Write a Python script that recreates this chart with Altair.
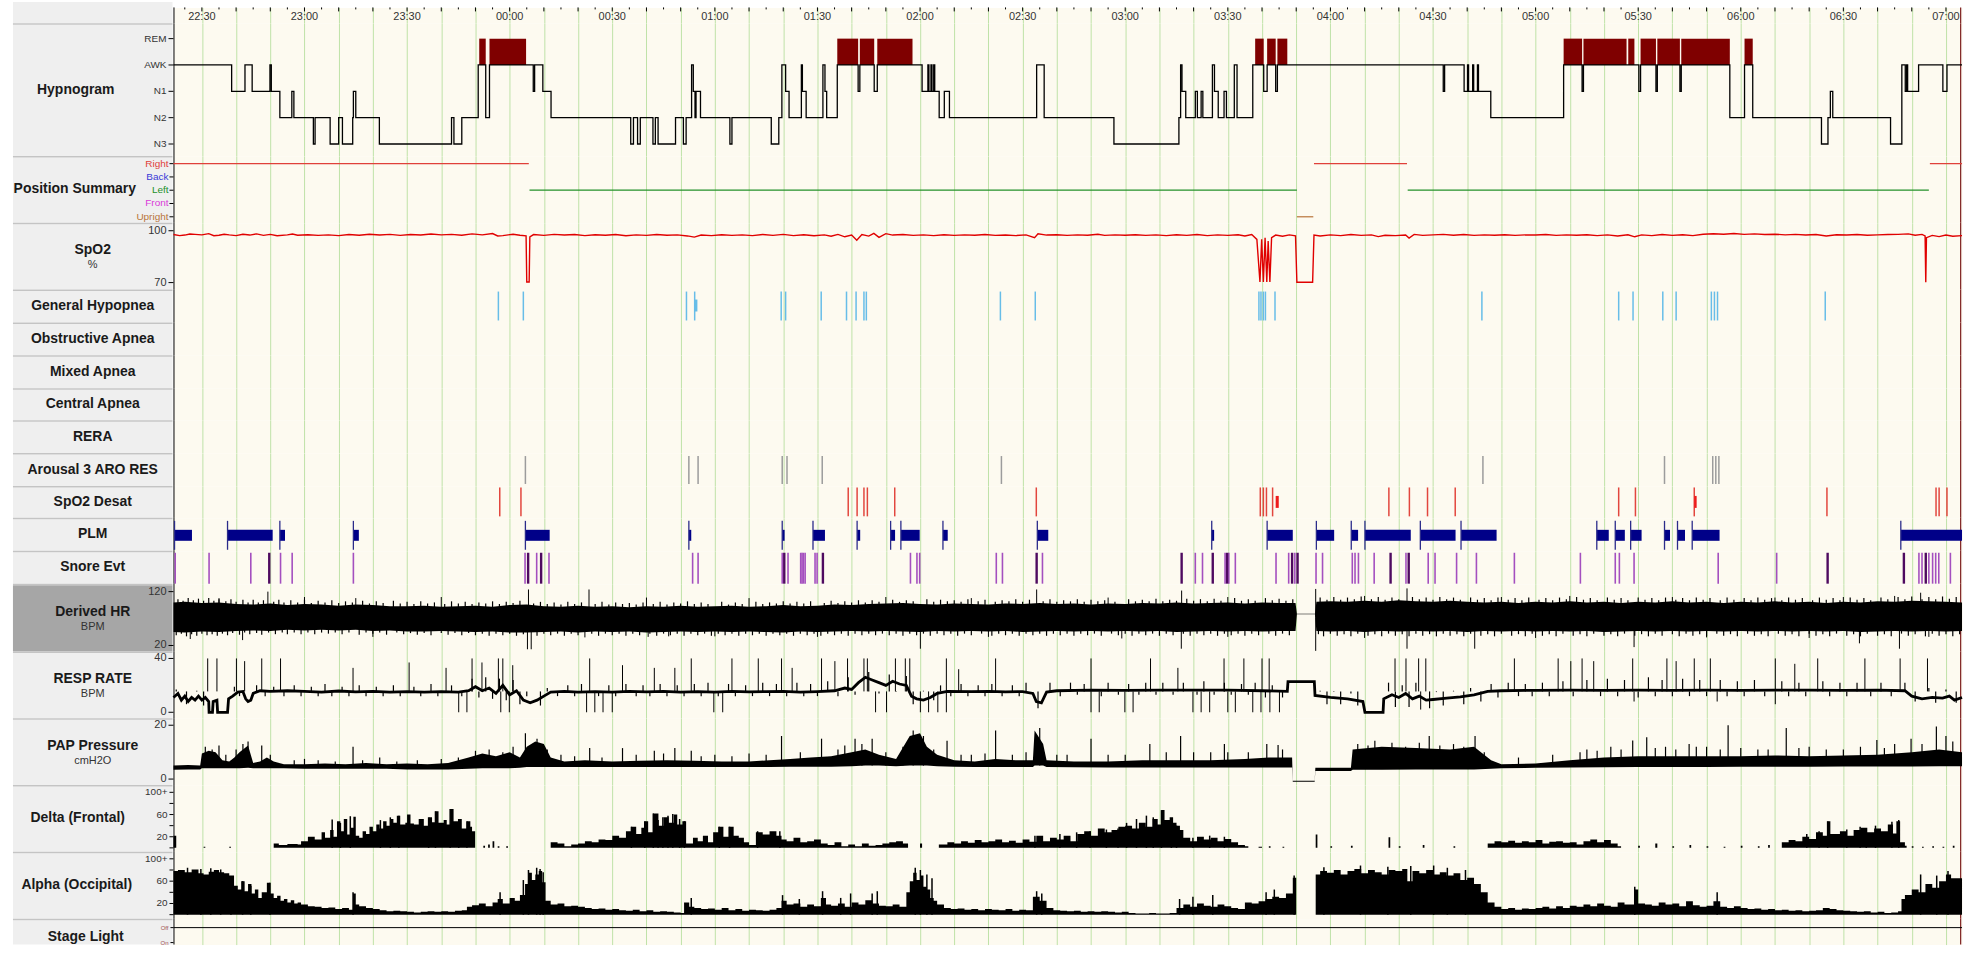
import altair as alt
import pandas as pd

# ---------------------------------------------------------------- layout
W = 1794
X0, X1 = -8.31, 514.7          # minutes after 22:30
CURSOR_T = 514.3
CREAM = "#fdfaf0"
GRID_GREEN = "#bfe2a8"
BOX = "#efefef"
BOX_SEL = "#a6a6a6"
SEP = "#c4c4c4"
FONT = "Liberation Sans"

# ---------------------------------------------------------------- time axis
TIME_LABEL_T = [0, 30, 60, 90, 120, 150, 180, 210, 240, 270, 300, 330, 360, 390, 420, 450, 480, 510]
TIME_LABELS = ["22:30", "23:00", "23:30", "00:00", "00:30", "01:00", "01:30", "02:00", "02:30",
               "03:00", "03:30", "04:00", "04:30", "05:00", "05:30", "06:00", "06:30", "07:00"]
GRID_T = list(range(0, 515, 10))
MINOR_T = list(range(-5, 515, 10))

# ---------------------------------------------------------------- hypnogram (start minute, stage)
HYPNO = [(-8.31, "AWK"), (8.7, "N1"), (12.6, "AWK"), (14.7, "N1"), (19.9, "AWK"), (20.3, "N1"),
         (22.8, "N2"), (26.3, "N1"), (26.9, "N2"), (32.6, "N3"), (33.1, "N2"), (37.5, "N3"),
         (40.0, "N2"), (41.1, "N3"), (44.1, "N2"), (44.3, "N1"), (45.0, "N2"), (51.9, "N3"),
         (73.0, "N2"), (73.7, "N3"), (76.0, "N2"), (80.8, "AWK"), (81.1, "REM"), (83.0, "N2"),
         (84.1, "REM"), (94.8, "AWK"), (96.9, "N1"), (97.3, "AWK"), (99.7, "N1"), (102.1, "N2"),
         (125.4, "N3"), (126.2, "N2"), (127.4, "N3"), (128.2, "N2"), (131.9, "N3"), (132.6, "N2"),
         (133.4, "N3"), (138.5, "N2"), (140.8, "N3"), (141.6, "N2"), (143.2, "AWK"), (143.7, "N1"),
         (144.2, "N2"), (144.5, "N1"), (145.8, "N2"), (154.4, "N3"), (155.0, "N2"), (166.5, "N3"),
         (168.7, "N2"), (169.6, "AWK"), (170.7, "N1"), (171.7, "N2"), (175.3, "AWK"), (175.6, "N1"),
         (176.7, "N2"), (181.6, "AWK"), (182.2, "N1"), (182.7, "N2"), (185.8, "REM"), (191.9, "N1"),
         (192.4, "REM"), (196.6, "N1"), (197.5, "REM"), (207.8, "AWK"), (210.6, "N1"), (212.3, "AWK"),
         (212.6, "N1"), (213.2, "AWK"), (213.5, "N1"), (214.0, "AWK"), (214.3, "N1"), (215.6, "N2"),
         (217.1, "N1"), (218.6, "N2"), (244.1, "AWK"), (246.3, "N2"), (266.7, "N3"), (285.7, "N2"),
         (286.2, "AWK"), (286.6, "N1"), (287.7, "N2"), (290.5, "N1"), (291.1, "N2"), (292.2, "N1"),
         (292.7, "N2"), (295.5, "AWK"), (296.1, "N1"), (297.2, "N2"), (298.9, "N1"), (299.6, "N2"),
         (301.9, "AWK"), (302.7, "N2"), (307.3, "AWK"), (308.0, "REM"), (310.5, "N1"), (311.5, "REM"),
         (314.0, "N1"), (314.5, "REM"), (317.4, "AWK"), (363.0, "N1"), (363.4, "AWK"), (369.1, "N1"),
         (370.1, "AWK"), (370.4, "N1"), (371.6, "AWK"), (371.9, "N1"), (373.0, "AWK"), (373.3, "N1"),
         (376.9, "N2"), (398.2, "REM"), (403.6, "N1"), (404.0, "REM"), (416.6, "AWK"), (417.1, "REM"),
         (418.9, "AWK"), (420.2, "N1"), (420.7, "REM"), (425.2, "N1"), (425.6, "REM"), (432.2, "N1"),
         (432.6, "REM"), (446.8, "N2"), (451.1, "REM"), (453.5, "N2"), (473.6, "N3"), (475.5, "N2"),
         (476.2, "N1"), (476.9, "N2"), (493.8, "N3"), (497.1, "AWK"), (498.1, "N1"), (498.5, "AWK"),
         (498.8, "N1"), (502.0, "AWK"), (509.1, "N1"), (510.3, "AWK")]
STAGE_LABELS = ["N3", "N2", "N1", "AWK", "REM"]

# ---------------------------------------------------------------- body position (start, end, position)
POSITION = [(-8.31, 95.6, "Right"), (95.8, 320.2, "Left"), (320.2, 325.0, "Upright"),
            (325.2, 352.4, "Right"), (352.6, 505.0, "Left"), (505.3, 514.7, "Right")]
POS_NAMES = ["Upright", "Front", "Left", "Back", "Right"]
POS_COLORS = ["#b8743a", "#d93ad9", "#23902a", "#3a3ad8", "#e0403a"]

# ---------------------------------------------------------------- SpO2 (minute, %)
SPO2 = [(-8.31, 97.8), (-6.5, 97.2), (-5, 97.5), (-3.5, 98.1), (-2, 97.9), (0, 97.6), (2, 98.3), (3.5, 97.1),
        (5, 97.4), (6.5, 98.0), (8, 97.6), (10, 97.2), (12, 98.0), (14, 97.5), (16, 98.2), (18, 97.3),
        (20, 97.9), (22, 97.1), (25, 97.6), (26.5, 98.1), (28, 97.4), (31, 97.7), (34, 97.3), (37, 97.6),
        (40, 97.2), (43, 97.8), (46, 97.4), (49, 98.0), (52, 97.5), (55, 97.9), (58, 97.3), (61, 97.8),
        (64, 97.5), (67, 98.1), (70, 97.6), (73, 97.9), (76, 97.4), (79, 98.2), (82, 97.6), (85, 98.4),
        (86.5, 97.0), (88, 97.2), (91, 98.0), (93, 97.4), (94.8, 97.0),
        (95.0, 70.3), (95.7, 70.3), (95.9, 96.5), (97, 97.8), (100, 97.3), (103, 97.9), (106, 97.5),
        (109, 97.8), (112, 97.2), (115, 97.7), (118, 97.4), (121, 97.8), (124, 97.1), (127, 97.6),
        (130, 97.3), (133, 97.8), (136, 97.4), (139, 97.6), (142, 97.0), (144, 96.3), (146, 97.5),
        (149, 97.2), (152, 97.7), (155, 97.3), (158, 97.6), (161, 97.2), (164, 97.8), (167, 97.3),
        (170, 97.9), (173, 97.2), (176, 97.7), (179, 97.1), (182, 97.6), (184, 96.8), (186, 97.9),
        (188, 96.5), (190, 97.5), (191.5, 94.5), (193, 97.8), (195, 96.9), (196.5, 98.5), (198, 96.2),
        (200, 98.3), (202, 97.5), (205, 97.8), (208, 97.3), (211, 97.6), (214, 97.2), (217, 97.7),
        (220, 97.3), (223, 97.6), (226, 97.4), (229, 97.8), (232, 97.3), (235, 97.5), (238, 97.2),
        (241, 97.6), (243.5, 96.0), (244.5, 98.2), (247, 97.5), (250, 97.7), (253, 97.3), (256, 97.6),
        (259, 97.4), (262, 98.0), (264, 97.3), (267, 97.6), (270, 97.4), (273, 97.7), (276, 97.3),
        (279, 97.6), (282, 97.2), (285, 97.7), (288, 97.3), (291, 97.8), (294, 97.2), (297, 97.6),
        (300, 97.3), (303, 97.7), (305, 97.0), (307, 97.8), (308.5, 95.0), (309.4, 70.3), (309.9, 95.0),
        (310.4, 70.3), (310.9, 96.0), (311.4, 70.3), (311.8, 94.0), (312.3, 70.3), (312.8, 96.0),
        (314, 97.5), (316, 96.8), (318, 97.6), (319.8, 97.0), (320.2, 70.2), (324.8, 70.2),
        (325.2, 97.5), (327, 97.0), (330, 97.6), (333, 97.2), (336, 97.8), (339, 97.3), (342, 97.6),
        (344, 96.6), (346, 97.4), (349, 97.2), (352, 97.5), (353, 95.8), (354.5, 97.9), (357, 97.3),
        (360, 97.6), (363, 97.9), (366, 97.4), (369, 97.8), (372, 97.3), (375, 97.6), (378, 97.4),
        (381, 97.7), (384, 97.3), (387, 97.6), (390, 97.5), (393, 97.8), (396, 97.3), (399, 97.6),
        (402, 97.4), (405, 97.7), (408, 97.2), (411, 97.6), (414, 97.0), (417, 97.7), (419, 96.5),
        (421, 97.6), (424, 97.2), (427, 97.8), (430, 97.3), (433, 97.7), (436, 97.2), (439, 98.0),
        (442, 98.3), (445, 98.0), (448, 98.4), (451, 97.9), (454, 98.2), (457, 97.8), (460, 98.0),
        (463, 97.6), (466, 97.9), (469, 97.5), (472, 97.8), (475, 97.0), (478, 97.7), (481, 97.5),
        (484, 97.8), (487, 97.4), (490, 97.6), (493, 97.8), (496, 97.9), (499, 98.2), (501, 97.4),
        (503, 97.9), (503.9, 97.0), (504.1, 70.2), (504.3, 96.0), (506, 97.3), (508, 96.6),
        (510, 97.5), (512, 96.8), (514.7, 97.2)]

# ---------------------------------------------------------------- scored events (minutes)
HYPOPNEA_T = [86.7, 94.0, 141.7, 144.1, 169.4, 170.7, 181.1, 188.5, 191.3, 193.6, 194.3, 233.5, 243.7,
              309.1, 309.7, 310.4, 311.0, 313.8, 374.3, 414.3, 418.5, 427.2, 431.1, 441.4, 442.3,
              443.2, 474.7]
HYPOPNEA_BLOB = [(144.1, 144.9)]
AROUSAL_T = [94.6, 142.4, 145.1, 169.7, 171.1, 181.4, 233.8, 374.6, 427.7, 441.8, 442.7, 443.6]
DESAT_T = [87.1, 93.3, 189.0, 191.6, 193.6, 194.6, 202.6, 244.0, 309.5, 310.4, 311.3, 313.1,
           347.1, 353.1, 358.4, 366.5, 414.3, 419.2, 436.4, 475.2, 507.1, 508.0, 510.3]
DESAT_BLOB = [(314.0, 314.9), (436.4, 437.1)]
PLM = [(-8.0, -2.9), (7.5, 20.7), (22.8, 24.3), (44.3, 45.9), (94.6, 101.7), (142.4, 143.1),
       (169.7, 170.4), (178.7, 182.2), (191.6, 192.5), (201.4, 202.7), (204.4, 209.9), (216.7, 218.1),
       (244.3, 247.5), (295.3, 296.0), (311.5, 319.0), (325.9, 331.1), (336.1, 338.1), (340.1, 353.5),
       (356.3, 366.6), (368.2, 378.6), (407.9, 411.4), (413.3, 416.1), (417.8, 421.0), (427.7, 429.3),
       (431.5, 433.7), (435.8, 443.8), (496.8, 514.7)]
SNORE_LIGHT = [-7.8, 2.1, 14.3, 23.0, 26.4, 44.3, 94.5, 97.9, 101.5, 143.5, 145.1, 169.7, 171.4,
               175.1, 175.5, 175.9, 176.4, 179.3, 179.9, 207.2, 209.1, 209.9, 232.3, 234.1, 245.8,
               290.5, 292.6, 299.2, 300.3, 302.2, 314.1, 317.8, 319.6, 325.8, 327.7, 336.4, 337.2,
               338.2, 342.8, 352.1, 358.6, 360.6, 366.9, 372.7, 383.8, 403.1, 413.3, 414.5, 418.8,
               443.4, 460.5, 502.1, 503.0, 505.0, 506.1, 507.0, 507.9, 511.3]
SNORE_DARK = [19.7, 95.4, 99.2, 170.3, 181.6, 244.1, 286.5, 295.6, 299.8, 318.8, 320.4, 347.6,
              352.9, 475.4, 497.7, 504.1]

# ---------------------------------------------------------------- derived HR band (BPM)
HR_T = [-8.3] + list(range(-5, 320, 5)) + [319.8, 320.2, 325.5, 325.9] + list(range(330, 515, 5)) + [514.7]
HR_HI = [100,
         101, 99, 100, 97, 96, 98, 95, 97, 96, 94,
         96, 95, 93, 93, 94, 92, 93, 94, 92, 95,
         96, 93, 92, 94, 92, 93, 91, 93, 92, 94,
         92, 93, 94, 92, 93, 95, 93, 94, 96, 95,
         97, 98, 99, 97, 96, 98, 97, 96, 98, 97,
         99, 97, 98, 96, 98, 97, 99, 98, 100, 98,
         99, 100, 98, 100, 99,
         99, 79, 79, 101,
         102, 101, 103, 101, 104, 102, 101, 103, 101, 100,
         101, 99, 101, 100, 102, 100, 101, 99, 101, 100,
         102, 100, 101, 99, 101, 100, 102, 100, 101, 99,
         101, 100, 102, 101, 103, 102, 101,
         100]
HR_LO = [45,
         44, 46, 45, 47, 48, 47, 49, 48, 49, 48,
         49, 47, 48, 46, 46, 47, 46, 45, 46, 44,
         44, 45, 46, 44, 46, 45, 46, 44, 45, 46,
         45, 46, 45, 46, 45, 44, 46, 45, 46, 47,
         46, 47, 46, 45, 47, 46, 47, 46, 47, 45,
         46, 47, 46, 47, 46, 47, 46, 47, 45, 46,
         47, 46, 47, 46, 47,
         47, 78, 78, 47,
         46, 47, 45, 47, 46, 47, 46, 47, 45, 47,
         46, 47, 46, 47, 46, 47, 45, 46, 47, 46,
         47, 46, 47, 46, 47, 46, 47, 46, 47, 46,
         47, 45, 46, 47, 46, 47, 46,
         47]
HR_SPIKES = [(19.3, 120), (95.5, 124), (113.2, 124), (244.1, 124), (286.5, 122), (352.4, 126), (502.6, 118),
             (325.7, 125), (5, 108), (30, 110), (45, 108), (70, 110), (130, 109), (160, 108), (200, 110),
             (225, 108), (265, 109), (300, 110), (340, 112), (380, 110), (400, 112), (430, 110), (460, 109),
             (480, 110), (495, 112), (-3.4, 32), (11.9, 30), (95.2, 13), (96.3, 13), (112, 35), (130.5, 36),
             (136.5, 37), (210.1, 14), (286.4, 14), (269, 33), (325.7, 10), (352.4, 14), (372.2, 14),
             (418.8, 17), (496.4, 14), (484.7, 24), (50, 36), (150, 37), (180, 36), (230, 36), (300, 36),
             (340, 34), (390, 34), (440, 35), (470, 34), (505, 36)]
HR_FRINGE_UP = [(-7, 106), (-5.5, 103), (-4, 108), (-2.5, 104), (-1, 107), (0.5, 103), (2, 108), (3.5, 103),
                (5, 106), (7, 102), (8.5, 106), (10, 101), (12, 105), (13.5, 100), (15, 105), (16.5, 100),
                (18, 104), (21, 101), (22.5, 105), (24, 100), (26, 104), (28, 100), (30, 105), (32, 99),
                (34, 103), (36, 100), (38, 104), (40, 99), (42, 102), (44, 100), (47, 103), (49, 98),
                (51, 102), (53, 99), (56, 103), (58, 98), (60, 101), (62, 97), (64, 102), (66, 98),
                (68, 100), (71, 97), (73, 102), (75, 98), (77, 101), (79, 97), (81, 100), (83, 98),
                (85, 102), (87, 97), (89, 101), (91, 99), (93, 103), (97, 98), (99, 101), (101, 97),
                (103, 100), (105, 96), (107, 101), (109, 97), (111, 100), (115, 97), (117, 101), (119, 96),
                (121, 100), (123, 97), (125, 99), (127, 96), (129, 100), (132, 97), (134, 101), (136, 96),
                (138, 100), (140, 98), (142, 102), (144, 97), (146, 100), (148, 97), (152, 101), (154, 96),
                (156, 100), (158, 97), (162, 101), (164, 97), (166, 100), (168, 98), (170, 102), (172, 98),
                (174, 101), (176, 98), (178, 102), (182, 99), (184, 103), (186, 99), (188, 102), (190, 100),
                (192, 104), (194, 100), (196, 104), (198, 101), (202, 105), (204, 101), (206, 104),
                (208, 102), (212, 106), (214, 101), (216, 105), (218, 102), (220, 104), (222, 101),
                (224, 106), (227, 102), (229, 105), (232, 101), (234, 104), (236, 102), (238, 106),
                (240, 101), (242, 105), (246, 102), (248, 106), (250, 101), (252, 104), (254, 102),
                (256, 106), (258, 101), (260, 105), (262, 102), (264, 104), (267, 101), (271, 106),
                (273, 102), (275, 105), (277, 102), (279, 107), (281, 102), (283, 105), (285, 103),
                (288, 107), (290, 103), (292, 106), (294, 102), (296, 107), (298, 103), (302, 108),
                (304, 103), (306, 106), (308, 103), (311, 108), (313, 104), (315, 107), (317, 103),
                (319, 106), (327, 109), (329, 105), (331, 110), (333, 105), (335, 109), (337, 106),
                (339, 111), (342, 106), (344, 110), (346, 105), (348, 109), (350, 106), (354, 110),
                (356, 106), (358, 109), (360, 105), (362, 110), (364, 106), (366, 109), (368, 105),
                (371, 109), (373, 105), (375, 108), (377, 104), (379, 109), (382, 105), (384, 108),
                (386, 104), (388, 109), (391, 105), (393, 108), (395, 104), (397, 109), (399, 106),
                (402, 110), (404, 105), (406, 108), (408, 104), (411, 109), (413, 105), (415, 108),
                (417, 104), (420, 109), (422, 105), (424, 108), (426, 104), (428, 109), (431, 105),
                (433, 108), (435, 104), (437, 109), (439, 105), (441, 108), (444, 104), (446, 109),
                (448, 105), (451, 108), (453, 104), (455, 109), (457, 105), (459, 108), (462, 104),
                (464, 109), (466, 105), (468, 108), (471, 104), (473, 109), (475, 105), (477, 108),
                (479, 104), (482, 109), (484, 105), (486, 108), (488, 104), (491, 109), (493, 106),
                (496, 110), (498, 106), (500, 111), (503, 106), (505, 110), (507, 106), (509, 111),
                (511, 107), (513, 110)]
HR_FRINGE_DN = [(-7.5, 39), (-6, 42), (-4.5, 37), (-3, 41), (-1.5, 38), (0, 42), (1.5, 39), (3, 41),
                (4.5, 38), (6, 42), (7.5, 39), (9, 43), (11, 40), (12.5, 44), (14, 41), (16, 43),
                (17.5, 40), (19.5, 44), (21.5, 41), (23.5, 44), (25, 41), (27, 44), (29, 41), (31, 44),
                (33, 41), (35, 44), (37, 42), (39, 44), (41, 41), (43, 44), (46, 40), (48, 44),
                (50, 42), (52, 44), (54, 40), (57, 44), (59, 41), (61, 43), (63, 40), (65, 43),
                (67, 39), (70, 43), (72, 40), (74, 43), (76, 39), (78, 43), (80, 39), (82, 42),
                (84, 38), (86, 42), (88, 39), (90, 42), (92, 38), (94, 41), (98, 38), (100, 42),
                (102, 39), (104, 42), (106, 38), (108, 42), (110, 39), (114, 42), (116, 38), (118, 42),
                (120, 39), (122, 42), (124, 38), (126, 42), (128, 39), (131, 42), (133, 38), (135, 42),
                (137, 39), (139, 42), (141, 38), (143, 42), (145, 39), (147, 42), (149, 38), (151, 42),
                (153, 39), (155, 42), (157, 38), (159, 42), (161, 39), (163, 42), (165, 38), (167, 42),
                (169, 39), (171, 42), (173, 38), (175, 42), (177, 39), (179, 42), (181, 38), (183, 42),
                (185, 39), (187, 42), (189, 38), (191, 42), (193, 39), (195, 42), (197, 39), (199, 42),
                (201, 39), (203, 42), (205, 38), (207, 42), (209, 39), (211, 42), (213, 38), (215, 42),
                (217, 39), (219, 42), (221, 38), (223, 42), (225, 39), (228, 42), (231, 38), (233, 42),
                (235, 39), (237, 42), (239, 38), (241, 42), (243, 39), (245, 42), (247, 38), (249, 42),
                (251, 39), (253, 42), (255, 38), (257, 42), (259, 39), (261, 42), (263, 38), (266, 42),
                (268, 39), (270, 42), (272, 38), (274, 42), (276, 39), (278, 42), (280, 38), (282, 42),
                (284, 39), (287, 42), (289, 38), (291, 42), (293, 39), (295, 42), (297, 38), (299, 42),
                (301, 39), (303, 42), (305, 38), (307, 42), (309, 39), (312, 42), (314, 38), (316, 42),
                (318, 39), (326.5, 41), (328, 37), (330, 42), (332, 38), (334, 41), (336, 37), (338, 42),
                (341, 38), (343, 41), (345, 37), (347, 42), (349, 38), (351, 41), (353, 37), (355, 42),
                (357, 38), (359, 41), (361, 37), (363, 42), (365, 38), (367, 41), (369, 37), (371, 42),
                (374, 38), (376, 41), (378, 37), (380, 42), (383, 38), (385, 41), (387, 37), (389, 42),
                (392, 38), (394, 41), (396, 37), (398, 42), (401, 38), (403, 41), (405, 37), (407, 42),
                (410, 38), (412, 41), (414, 37), (416, 42), (419, 38), (421, 41), (423, 37), (425, 42),
                (427, 38), (430, 41), (432, 37), (434, 42), (436, 38), (438, 41), (440, 37), (443, 42),
                (445, 38), (447, 41), (449, 37), (452, 42), (454, 38), (456, 41), (458, 37), (461, 42),
                (463, 38), (465, 41), (467, 37), (470, 42), (472, 38), (474, 41), (476, 37), (478, 42),
                (481, 38), (483, 41), (485, 37), (487, 42), (490, 38), (492, 41), (494, 37), (497, 42),
                (499, 38), (501, 41), (504, 37), (506, 42), (508, 38), (510, 41), (512, 37), (514, 41)]

# ---------------------------------------------------------------- respiration rate (BPM)
RESP = [(-8.31, 11), (-7, 14), (-6, 9), (-5, 12), (-4, 8), (-3, 11), (-2, 9), (-1, 12), (0, 9), (1, 11),
        (2.0, 8), (2.1, 0), (3.1, 0), (3.3, 8), (4.4, 9), (4.6, 0), (7.5, 0), (7.8, 10), (9, 12),
        (10.5, 15), (12, 15.5), (12.8, 10), (13.5, 8), (14.3, 9), (15, 14), (17, 16), (20, 15.5),
        (25, 16), (30, 15.5), (35, 15), (40, 15.8), (45, 15.2), (50, 15.5), (55, 15), (60, 15.3),
        (65, 15), (70, 15.4), (75, 15), (78, 16), (80, 19), (82, 16), (84, 18), (86, 14), (88, 20),
        (90, 13), (92, 16), (94, 9), (96, 7), (98, 9), (100, 12), (102, 15), (106, 15.5), (110, 15),
        (115, 15.3), (120, 15), (125, 15.5), (130, 15.2), (135, 15.5), (140, 15), (145, 15.4),
        (150, 15), (155, 15.5), (160, 15.2), (165, 15.4), (170, 15.5), (175, 15), (180, 15.4),
        (185, 16), (188, 18), (190, 17), (192, 22), (194, 26), (196, 24), (198, 22), (200, 20),
        (202, 23), (204, 21), (206, 20), (207.5, 12), (209, 10), (211, 9), (213, 11), (215, 14),
        (218, 15.5), (225, 15.3), (230, 15.5), (235, 15.2), (240, 15.4), (243, 14), (244, 8),
        (245.5, 7), (247, 15), (250, 16), (260, 16.5), (270, 16.3), (280, 16.5), (290, 16.4),
        (300, 16.5), (310, 16), (317.4, 15.5), (317.6, 22.7), (325.3, 22.7), (325.5, 12.5), (330, 11),
        (335, 10), (339.5, 8), (340.1, 0), (345.4, 0), (345.6, 10), (348, 13), (350, 11), (352, 14),
        (354, 10), (356, 12), (358, 9), (360, 9.5), (364, 10.5), (368, 11.5), (372, 13), (376, 15.5),
        (380, 16), (390, 16.3), (400, 16.5), (410, 16.2), (420, 16.5), (430, 16.3), (440, 16.5),
        (450, 16.2), (460, 16.4), (470, 16.5), (480, 16.2), (490, 16.4), (498, 16), (500, 12),
        (503, 10), (506, 11), (509, 10.5), (511, 12), (512.5, 9), (514.7, 11)]
RESP_SPIKES = [(1.7, 40), (4.4, 40), (10.1, 40), (12.5, 38), (17.5, 40), (23.0, 40), (44.2, 33), (60.6, 37),
               (71.4, 33), (79.0, 40), (81.9, 37), (86.7, 40), (88.0, 40), (90.9, 35), (113.4, 40), (123.0, 35),
               (132.3, 33), (138.3, 33), (143.1, 40), (155.0, 40), (162.7, 40), (169.5, 40), (172.6, 33),
               (181.2, 40), (185.1, 38), (188.8, 40), (193.6, 40), (194.6, 40), (202.8, 40), (205.7, 40),
               (207.0, 40), (217.7, 40), (221.3, 32), (232.1, 40), (260.0, 40), (277.4, 40), (285.4, 33),
               (298.9, 40), (304.7, 40), (310.0, 40), (312.1, 40), (348.9, 40), (352.1, 40), (355.8, 40),
               (357.9, 40), (383.8, 40), (396.6, 40), (400.3, 38), (403.6, 40), (407.0, 38), (418.4, 40),
               (428.4, 40), (431.1, 38), (436.4, 40), (441.1, 40), (460.1, 40), (465.8, 36), (472.5, 40),
               (486.3, 40), (496.6, 40), (504.6, 40),
               (75.1, 0), (77.5, 0), (87.4, 0), (89.9, 0), (112.5, 0), (114.9, 0), (117.3, 0), (120.0, 0),
               (149.7, 0), (152.3, 0), (197.0, 0), (200.2, 0), (210.1, 0), (212.5, 0), (215.2, 0),
               (217.7, 0), (260.0, 0), (262.4, 0), (269.9, 0), (272.3, 0), (289.8, 0), (292.2, 0),
               (294.7, 0), (300.0, 0), (302.2, 0), (307.3, 0), (309.7, 0), (312.3, 0), (315.1, 0),
               (356.4, 2), (418.8, 8), (443.1, 8), (460.1, 6)]
RESP_FRINGE = [(-7.5, 17), (-4.5, 6), (-1.5, 16), (0.5, 5), (9.5, 19), (11, 12), (16, 20), (18.5, 12),
               (21, 19), (24, 12), (27, 20), (29, 12), (32, 19), (34, 12), (36, 21), (38, 12), (41, 19),
               (43, 12), (46, 20), (48, 12), (51, 19), (53, 12), (56, 20), (58, 12), (62, 19), (64, 12),
               (67, 21), (69, 12), (73, 20), (76, 12), (79, 25), (81, 11), (83, 26), (85, 10), (87, 25),
               (89, 9), (91, 24), (93, 6), (95, 12), (99, 5), (101, 18), (104, 12), (107, 20), (109, 12),
               (111, 21), (116, 12), (119, 20), (121, 12), (124, 21), (127, 12), (129, 20), (131, 12),
               (134, 21), (136, 12), (139, 20), (141, 12), (144, 21), (146, 12), (148, 22), (151, 12),
               (154, 21), (156, 12), (159, 20), (161, 12), (164, 22), (166, 12), (168, 21), (171, 12),
               (174, 22), (176, 12), (178, 21), (180, 12), (183, 23), (186, 12), (189, 26), (191, 13),
               (195, 30), (198, 14), (201, 28), (203, 15), (206, 27), (208, 6), (211, 16), (214, 9),
               (216, 20), (219, 12), (222, 21), (224, 12), (227, 20), (229, 12), (231, 21), (234, 12),
               (237, 20), (239, 12), (241, 22), (244.5, 3), (248, 22), (251, 12), (254, 22), (256, 13),
               (258, 21), (263, 12), (265, 22), (268, 13), (271, 21), (274, 13), (276, 22), (279, 13),
               (281, 22), (284, 13), (287, 22), (291, 13), (293, 23), (296, 13), (299, 22), (301, 13),
               (304, 21), (306, 13), (308, 22), (311, 11), (313, 20), (316, 11), (327, 16), (329, 6),
               (331, 15), (333, 6), (336, 14), (338, 5), (347, 22), (349, 4), (351, 20), (353, 4),
               (355, 22), (359, 3), (361, 15), (363, 5), (366, 16), (369, 6), (371, 18), (374, 8),
               (377, 21), (379, 11), (382, 22), (385, 12), (387, 21), (389, 12), (392, 22), (394, 12),
               (398, 23), (401, 12), (405, 24), (409, 12), (411, 25), (414, 12), (416, 24), (420, 11),
               (423, 26), (425, 12), (427, 24), (430, 12), (433, 25), (435, 12), (438, 24), (440, 12),
               (444, 24), (446, 12), (449, 23), (451, 12), (454, 24), (457, 12), (462, 23), (464, 12),
               (467, 22), (469, 12), (474, 23), (476, 12), (479, 22), (481, 12), (484, 22), (488, 12),
               (491, 22), (494, 12), (498, 22), (501, 8), (505, 18), (507, 7), (510, 17), (513, 7)]

# ---------------------------------------------------------------- PAP pressure band (cmH2O)
PAP = [(-8.31, 3.5, 5.0), (-4, 3.6, 5.2), (-0.5, 3.6, 5.0), (0, 4, 9.5), (2, 4, 10.5), (4, 4, 10),
       (6, 4, 7), (8, 4, 6.5), (9.5, 4, 8), (11, 4, 10), (13.5, 4.2, 12.5), (15, 4, 6), (17, 4, 6.5),
       (19, 4, 8), (21, 4, 6.5), (24, 4, 5.5), (30, 3.8, 5.5), (36, 3.8, 5.8), (42, 3.8, 5.5),
       (48, 3.8, 6), (54, 3.8, 5.5), (60, 3.6, 5.8), (66, 3.6, 5.5), (72, 3.6, 6), (78, 3.8, 8),
       (82, 4, 9.5), (86, 4, 8.5), (90, 4, 10), (93, 4.2, 8), (95, 4.5, 12), (97.5, 4.5, 14),
       (100, 4.5, 13), (102, 4.5, 8), (106, 4.5, 6.5), (112, 4.5, 7), (120, 4.5, 6.5), (128, 4.5, 6.8),
       (136, 4.5, 7), (144, 4.5, 6.8), (152, 4.5, 6.5), (160, 4.5, 6.5), (166, 4.5, 7), (172, 4.6, 7.5),
       (178, 4.6, 8), (184, 4.6, 8.5), (190, 4.8, 10), (194, 5, 11), (198, 5, 9), (203, 4.8, 7.5),
       (207, 5, 16), (210, 5, 17), (212, 5, 12), (215, 4.8, 9), (220, 4.6, 7), (226, 4.5, 6.5),
       (232, 4.5, 7.5), (238, 4.5, 7), (243, 4.5, 7), (243.5, 5, 18), (246, 5, 13), (247, 4.5, 7),
       (255, 4.4, 6.5), (265, 4.3, 6.5), (275, 4.3, 7), (285, 4.3, 7), (295, 4.3, 7), (305, 4.3, 7.5),
       (312, 4.3, 8), (318.8, 4.3, 8), (319.0, -1.0, -0.6), (325.4, -1.0, -0.6), (325.6, 3, 4.2),
       (336, 3, 4.2), (336.5, 3.5, 11), (345, 3.5, 12), (355, 3.6, 11.5), (365, 3.6, 11), (372, 3.6, 12),
       (377, 3.8, 7), (380, 4, 5.5), (390, 4.2, 5.8), (400, 4.3, 7), (410, 4.4, 8), (420, 4.5, 8.5),
       (430, 4.5, 8.5), (440, 4.5, 8.5), (450, 4.6, 8.5), (460, 4.6, 8.8), (470, 4.6, 8.5),
       (480, 4.7, 8.8), (490, 4.7, 9), (500, 4.7, 10), (508, 4.8, 11), (514.7, 4.8, 10)]
PAP_SPIKES = [(13.5, 14), (17.5, 12.5), (44.2, 12), (94.6, 17), (98, 15), (113.4, 11.5), (123, 11.5),
              (132.3, 10.5), (138.3, 11.5), (143.1, 10.5), (169.5, 16), (181.2, 15), (191, 15), (196, 15),
              (217.9, 14.2), (232.1, 18), (260, 15), (277.2, 13), (286.2, 16), (299, 13), (311.4, 13),
              (314.7, 12.7), (343, 14.2), (358.9, 16), (372.3, 16), (418.4, 14.3), (422.5, 15.5),
              (434.9, 13), (446.3, 20), (463.3, 19), (489.8, 14.5), (499.8, 15), (507.2, 19.5), (510, 16),
              (30, 7.5), (52, 8), (70, 7.5), (105, 9), (150, 9), (160, 9.5), (225, 9), (250, 9), (270, 9),
              (290, 10), (300, 10), (385, 8), (395, 9), (405, 11), (412, 12), (428, 12), (440, 12),
              (455, 11), (470, 12), (480, 11), (495, 13),
              (1, 12), (3, 11), (5, 12.5), (7, 9), (10, 11), (12, 13), (20, 9), (27, 7), (34, 7), (39, 6.5),
              (47, 7), (57, 6.5), (63, 7), (75, 8), (80, 10.5), (84, 11), (88, 10), (91, 12), (101, 11),
              (109, 8.5), (117, 8), (127, 9), (135, 9.5), (146, 8.5), (155, 8.5), (165, 9), (175, 10),
              (186, 11), (188, 12.5), (193, 13), (200, 10), (205, 12), (208, 18), (211, 16), (214, 11),
              (222, 9), (229, 9.5), (237, 9), (241, 10), (245, 19), (253, 9), (265, 9), (282, 10),
              (295, 10), (306, 10), (316, 11), (338, 13), (341, 12.5), (348, 13.5), (352, 12), (356, 13.5),
              (362, 12.5), (366, 13), (369, 12), (375, 10), (403, 10), (408, 10.5), (415, 11), (425, 11.5),
              (431, 11), (437, 12), (444, 11), (450, 11.5), (458, 11), (467, 11.5), (475, 11), (485, 12),
              (492, 11.5), (503, 13), (512, 14)]

# ---------------------------------------------------------------- Delta (frontal) power
DELTA = [(-8.31, 22), (-7.5, 0), (0.5, 2), (1.0, 0), (8.0, 2), (8.5, 0), (21, 8), (22.5, 5), (25, 7),
         (28, 6), (29, 12), (31, 20), (33, 15), (35, 28), (36, 18), (37.5, 32), (38.5, 20), (39.5, 48),
         (40.5, 30), (41.5, 52), (42.5, 24), (43.5, 36), (44.3, 56), (45, 22), (46, 18), (47, 30),
         (48, 25), (49, 38), (50, 30), (51, 42), (52, 35), (53, 48), (54, 40), (55, 52), (56, 45),
         (57, 58), (58, 42), (59.5, 45), (60, 60), (61, 44), (62, 42), (63.4, 52), (64.9, 40),
         (66.3, 55), (67.3, 46), (68.3, 66), (69.2, 45), (70.7, 50), (71.6, 42), (72.6, 70), (73.6, 48),
         (75.1, 52), (76, 35), (77.5, 48), (78.5, 38), (79, 30), (79.9, 0), (82.3, 4), (82.8, 0),
         (83.7, 6), (84.2, 0), (85, 12), (85.5, 0), (86.5, 3), (87, 0), (89, 3), (89.5, 0), (102, 10),
         (104, 8), (106, 3), (108, 6), (110, 8), (112, 12), (114, 10), (116, 15), (118, 14), (120, 22),
         (122, 18), (124, 30), (125.5, 38), (127, 25), (128.5, 36), (129.5, 48), (130.5, 28), (132, 62),
         (133.5, 40), (135, 55), (136.5, 45), (138, 60), (139, 42), (140.5, 48), (141.6, 8), (143.6, 18),
         (145, 12), (146.5, 22), (148, 10), (149.5, 28), (151, 38), (152.5, 20), (154, 38), (155.5, 22),
         (157, 18), (158.5, 10), (160, 5), (162, 28), (164, 24), (166, 30), (168, 22), (169.5, 15),
         (171, 12), (173, 18), (175, 10), (177, 12), (179, 15), (181, 8), (183, 5), (185, 10), (187, 3),
         (189, 6), (191, 3), (193, 8), (195, 4), (197, 5), (199, 8), (201, 10), (203, 12), (205, 8),
         (206.5, 0), (210, 8), (210.6, 0), (215.5, 6), (218, 10), (220, 8), (222, 12), (224, 9),
         (226, 14), (228, 10), (230, 12), (232, 15), (234, 10), (236, 13), (238, 9), (240, 15), (242, 11),
         (244, 22), (246, 12), (248, 18), (250, 15), (252, 22), (254, 12), (256, 25), (258, 30),
         (260, 22), (262, 35), (264, 28), (266, 32), (268, 38), (270, 40), (272, 35), (274, 45),
         (276, 38), (278, 52), (279.5, 42), (280.6, 68), (281.5, 50), (283, 55), (284, 45), (285, 40),
         (286, 32), (287, 18), (289, 12), (291, 20), (293, 15), (295, 18), (297, 12), (299, 16),
         (301, 10), (303, 5), (305, 3), (306, 0), (309, 2), (310, 0), (312, 3), (312.5, 0), (316, 2),
         (316.5, 0), (325.7, 24), (326.2, 0), (330, 3), (330.5, 0), (336, 4), (336.5, 0), (347, 19),
         (347.5, 0), (350, 3), (350.5, 0), (357, 5), (357.5, 0), (366, 3), (366.5, 0), (376, 8),
         (378, 12), (380, 10), (382, 13), (384, 9), (386, 12), (388, 10), (390, 14), (392, 8), (394, 11),
         (396, 12), (398, 9), (400, 10), (402, 6), (404, 12), (406, 15), (408, 10), (410, 14), (412, 8),
         (414, 3), (415, 0), (420, 4), (420.5, 0), (425, 8), (425.6, 0), (430, 3), (430.5, 0), (435, 5),
         (435.5, 0), (440, 3), (440.5, 0), (445, 2), (445.5, 0), (450, 4), (450.5, 0), (455, 3),
         (455.5, 0), (458, 5), (458.5, 0), (462, 10), (464, 14), (466, 12), (468, 20), (470, 16),
         (472, 28), (474, 22), (475.4, 48), (476.2, 25), (477, 25), (479, 30), (481, 22), (483, 32),
         (485, 36), (487, 28), (489, 35), (491, 30), (493, 42), (494.5, 26), (495.5, 48), (496.6, 10),
         (498, 4), (498.5, 0), (500, 3), (500.5, 0), (503, 2), (503.5, 0), (506, 3), (506.5, 0), (509, 2),
         (509.5, 0), (512, 4), (512.5, 0), (514.7, 0)]
DELTA_PEAKS = [(38.1, 51), (40.5, 45), (43.4, 57), (52.2, 50), (55.1, 55), (57.6, 58), (66.3, 55),
               (68.3, 66), (72.6, 70), (75.1, 52), (77.5, 48), (125.6, 38), (129.5, 48), (132, 62),
               (133.4, 50), (134.8, 55), (136.3, 58), (137.7, 61), (139.7, 52), (141.1, 48),
               (151.3, 38), (154.3, 38), (162.5, 30), (169, 30), (243.6, 22), (250.9, 25), (255.8, 28),
               (259.7, 30), (264.5, 33), (267.9, 35), (270.4, 45), (273.3, 52), (276.2, 58), (278.2, 55),
               (280.6, 68), (283.5, 52), (285, 40), (289.8, 18), (294.7, 22), (299, 20), (469.3, 25),
               (472.9, 30), (475.4, 48), (481, 33), (484.9, 38), (486.7, 35), (489.4, 40), (494.2, 47),
               (496.2, 50)]

# ---------------------------------------------------------------- Alpha (occipital) power
ALPHA = [(-8.31, 78), (-7, 80), (-5, 76), (-3, 81), (-1, 74), (0.5, 72), (2, 77), (3.5, 80), (5, 76),
         (6.5, 74), (8, 70), (9.4, 52), (10.5, 45), (11.5, 60), (12.5, 42), (13.5, 55), (14.5, 38),
         (15.5, 45), (16.5, 30), (17.5, 40), (19, 57), (20, 38), (21, 30), (22, 34), (23, 25), (24, 28),
         (25, 22), (26, 26), (27, 20), (28, 22), (29, 18), (31, 15), (33, 14), (35, 12), (37, 13),
         (39, 10), (41, 12), (43, 9), (44.2, 38), (45, 18), (46, 15), (48, 12), (50, 10), (52, 8),
         (54, 6), (56, 7), (58, 6), (60, 5), (62, 4), (64, 5), (66, 6), (68, 5), (70, 6), (72, 5),
         (74, 7), (76, 8), (77.5, 14), (79, 17), (81, 20), (83, 15), (85, 22), (86.5, 28), (88, 20),
         (90, 30), (91.5, 25), (93, 35), (94.5, 55), (95.5, 75), (96.5, 62), (97.5, 72), (98.5, 78),
         (99.5, 58), (100.5, 25), (102, 18), (104, 20), (106, 15), (108, 16), (110, 14), (112, 12),
         (114, 10), (116, 11), (118, 9), (120, 10), (122, 8), (124, 7), (126, 9), (128, 6), (130, 8),
         (132, 5), (134, 6), (136, 5), (138, 4), (140, 3), (141, 22), (142.5, 14), (144, 12), (146, 10),
         (148, 11), (150, 9), (152, 12), (154, 8), (156, 10), (158, 7), (160, 9), (162, 8), (164, 7),
         (166, 9), (168, 12), (169.5, 25), (171, 18), (173, 20), (175, 14), (177, 18), (179, 15),
         (181, 30), (182.5, 18), (184, 16), (186, 20), (188, 14), (190, 22), (192, 18), (194, 26),
         (196, 20), (198, 16), (200, 15), (202, 18), (204, 14), (206, 40), (207, 60), (208, 75),
         (209, 62), (210, 70), (211, 50), (212, 45), (213, 30), (214, 25), (215, 18), (217, 12),
         (219, 10), (221, 11), (223, 9), (225, 10), (227, 8), (229, 10), (231, 9), (233, 8), (235, 10),
         (237, 7), (239, 9), (241, 8), (243, 32), (245, 25), (247, 12), (249, 8), (251, 7), (253, 6),
         (255, 7), (257, 5), (259, 6), (261, 5), (263, 6), (265, 5), (267, 4), (269, 5), (271, 3),
         (273, 2), (275, 2), (277, 3), (279, 2), (281, 2), (283, 3), (285, 12), (287, 18), (289, 14),
         (291, 20), (293, 16), (295, 14), (297, 18), (299, 15), (301, 12), (303, 10), (305, 22),
         (307, 20), (309, 24), (311, 28), (313, 32), (315, 30), (317, 38), (319, 66), (320, 0),
         (325.7, 72), (327, 78), (329, 75), (331, 80), (333, 72), (335, 78), (337, 82), (339, 74),
         (341, 80), (343, 76), (345, 72), (347, 80), (349, 78), (351, 82), (352.5, 60), (354, 78),
         (356, 74), (358, 80), (360, 72), (362, 76), (364, 70), (366, 74), (368, 62), (370, 66),
         (372, 55), (374, 40), (376, 22), (378, 14), (380, 10), (382, 12), (384, 9), (386, 11),
         (388, 10), (390, 12), (392, 14), (394, 11), (396, 15), (398, 12), (400, 16), (402, 14),
         (404, 18), (406, 15), (408, 20), (410, 16), (412, 14), (414, 22), (416, 18), (419, 45),
         (420, 20), (422, 18), (424, 16), (426, 22), (428, 18), (430, 20), (432, 15), (434, 24),
         (436, 17), (438, 14), (440, 16), (442, 24), (444, 14), (446, 12), (448, 15), (450, 12),
         (452, 10), (454, 11), (456, 9), (458, 10), (460, 8), (462, 9), (464, 7), (466, 8), (468, 6),
         (470, 7), (472, 8), (474, 12), (476, 10), (478, 8), (480, 7), (482, 6), (484, 5), (486, 6),
         (488, 4), (490, 5), (492, 3), (494, 4), (496, 6), (497, 28), (498, 35), (500, 45), (502, 40),
         (504, 55), (506, 48), (508, 60), (510, 72), (511.5, 65), (514.7, 65)]
ALPHA_PEAKS = [(-4.2, 84), (-0.3, 82), (2.6, 83), (5.5, 81), (8.5, 68), (11.9, 60), (14.3, 52), (19.9, 57),
               (44.2, 40), (87.2, 40), (94, 62), (95.5, 80), (97.9, 84), (98.9, 82), (99.8, 76),
               (143.1, 30), (169.8, 35), (174.7, 28), (181.5, 42), (186.8, 30), (189.7, 38), (196, 38),
               (197.5, 42), (208.6, 84), (210.1, 80), (212, 72), (213.5, 65), (244.1, 42), (245.6, 38),
               (285.9, 28), (289.8, 32), (295.6, 35), (311.2, 40), (313.6, 45), (319.4, 70), (328.1, 85),
               (338.8, 88), (346.8, 86), (353.5, 87), (360.2, 88), (364.2, 84), (369.5, 80), (419, 50),
               (443.1, 40), (502.6, 72), (507.3, 70), (510.6, 78)]

# ---------------------------------------------------------------- stage light (start, end, level)
STAGE_LIGHT = [(-8.31, 514.7, "Off")]

# ================================================================= helpers
XS = alt.Scale(domain=[X0, X1], nice=False, zero=False)
XAX = alt.Axis(values=GRID_T, grid=True, gridColor=GRID_GREEN, gridWidth=1, labels=False,
               ticks=False, domain=False, title=None)
ONE = alt.Data(values=[{"a": 1}])


def xq(f="t"):
    return alt.X(f + ":Q", scale=XS, axis=XAX)


def yq(f, sc):
    return alt.Y(f + ":Q", scale=sc, axis=None)


def frame(h, label=None, sub=None, cx=91, box=BOX, box_top=0.0, ly=None, sep=True):
    L = [alt.Chart(ONE).mark_rect(color=box).encode(
        x=alt.value(-161), x2=alt.value(-1), y=alt.value(box_top + 1.5), y2=alt.value(h))]
    if sep:
        L.append(alt.Chart(ONE).mark_rule(color=SEP, strokeWidth=1.5).encode(
            x=alt.value(-161), x2=alt.value(-1), y=alt.value(box_top + 0.75)))
    if ly is None:
        ly = h / 2
    if label:
        L.append(alt.Chart(ONE).mark_text(text=label, font=FONT, fontSize=14, fontWeight="bold",
                                          color="#1a1a1a", align="center", baseline="middle").encode(
            x=alt.value(cx - 172), y=alt.value(ly - (6 if sub else 0))))
    if sub:
        L.append(alt.Chart(ONE).mark_text(text=sub, font=FONT, fontSize=11, color="#333333",
                                          align="center", baseline="middle").encode(
            x=alt.value(cx - 172), y=alt.value(ly + 9)))
    L.append(alt.Chart(ONE).mark_rule(color="#000000", strokeWidth=1).encode(
        x=alt.value(0.5), y=alt.value(0), y2=alt.value(h)))
    L.append(alt.Chart(pd.DataFrame({"t": [CURSOR_T]})).mark_rule(color="#7d1f1f", strokeWidth=1.2)
             .encode(x=xq()))
    return L


def ylabels(vals, labels, sc, size=11, color="#333333", tick=5):
    df = pd.DataFrame({"yv": vals, "lab": labels})
    return [
        alt.Chart(df).mark_rule(color="#000000", strokeWidth=1).encode(
            x=alt.value(-tick), x2=alt.value(0), y=yq("yv", sc)),
        alt.Chart(df).mark_text(font=FONT, fontSize=size, color=color, align="right",
                                baseline="middle").encode(
            x=alt.value(-tick - 2), y=yq("yv", sc), text="lab:N"),
    ]


def ticks(ts, color, y1, y2, w=1.5):
    return alt.Chart(pd.DataFrame({"t": ts})).mark_rule(color=color, strokeWidth=w).encode(
        x=xq(), y=alt.value(y1), y2=alt.value(y2))


def bars(seg, color, y1, y2):
    df = pd.DataFrame(seg, columns=["s", "e"])
    return alt.Chart(df).mark_rect(color=color).encode(
        x=xq("s"), x2="e:Q", y=alt.value(y1), y2=alt.value(y2))


def spikes(pts, base, sc, w=1.0):
    df = pd.DataFrame(pts, columns=["t", "v"])
    df["b"] = base
    return alt.Chart(df).mark_rule(color="#000000", strokeWidth=w).encode(
        x=xq(), y=yq("b", sc), y2="v:Q")


def panel(h, layers):
    return alt.layer(*layers).properties(width=W, height=h)


# ================================================================= top time axis
h = 16
ax_layers = frame(h, box_top=-7, sep=False)
ax_layers += [
    ticks(GRID_T, "#000000", 0, 4, 1),
    ticks(MINOR_T, "#000000", 0, 2, 1),
    alt.Chart(pd.DataFrame({"t": TIME_LABEL_T, "lab": TIME_LABELS})).mark_text(
        font=FONT, fontSize=11, color="#333333", baseline="middle").encode(
        x=xq(), y=alt.value(10), text="lab:N"),
]
p_axis = panel(h, ax_layers)

# ================================================================= hypnogram
h = 133
lvl = {"N3": 0, "N2": 1, "N1": 2, "AWK": 3, "REM": 4}
hy_t = [t for t, s in HYPNO] + [X1]
hy_s = [s for t, s in HYPNO] + [HYPNO[-1][1]]
hyp_line = pd.DataFrame({"t": hy_t, "lvl": [3 if s == "REM" else lvl[s] for s in hy_s]})
rem = []
for i, (t, s) in enumerate(HYPNO):
    if s == "REM":
        rem.append((t, hy_t[i + 1]))
rem_df = pd.DataFrame(rem, columns=["s", "e"])
rem_df["top"] = 4
rem_df["bot"] = 3
HY_SC = alt.Scale(domain=[-0.454, 4.579], nice=False, zero=False)
p_hyp = panel(h, frame(h, "Hypnogram", cx=74) + ylabels([0, 1, 2, 3, 4], STAGE_LABELS, HY_SC, size=10) + [
    alt.Chart(rem_df).mark_rect(color="#7f0000").encode(
        x=xq("s"), x2="e:Q", y=yq("top", HY_SC), y2="bot:Q"),
    alt.Chart(hyp_line).mark_line(color="#000000", strokeWidth=1.3, interpolate="step-after").encode(
        x=xq(), y=yq("lvl", HY_SC)),
])

# ================================================================= position summary
h = 67
POS_LVL = {"Upright": 0, "Front": 1, "Left": 2, "Back": 3, "Right": 4}
POS_SC = alt.Scale(domain=[-0.450, 4.578], nice=False, zero=False)
POS_COL = alt.Scale(domain=POS_NAMES, range=POS_COLORS)
pos_df = pd.DataFrame(POSITION, columns=["s", "e", "name"])
pos_df["lvl"] = [POS_LVL[n] for n in pos_df["name"]]
pos_lab = pd.DataFrame({"name": POS_NAMES, "lvl": [POS_LVL[n] for n in POS_NAMES]})
p_pos = panel(h, frame(h, "Position Summary", cx=73) + [
    alt.Chart(pos_lab).mark_rule(color="#000000", strokeWidth=1).encode(
        x=alt.value(-4), x2=alt.value(0), y=yq("lvl", POS_SC)),
    alt.Chart(pos_df).mark_rule(strokeWidth=1.2).encode(
        x=xq("s"), x2="e:Q", y=yq("lvl", POS_SC),
        color=alt.Color("name:N", scale=POS_COL, legend=None)),
    alt.Chart(pos_lab).mark_text(font=FONT, fontSize=10, align="right", baseline="middle").encode(
        x=alt.value(-5), y=yq("lvl", POS_SC), text="name:N",
        color=alt.Color("name:N", scale=POS_COL, legend=None)),
])

# ================================================================= SpO2
h = 67
SP_SC = alt.Scale(domain=[65.96, 104.62], nice=False, zero=False)
sp_df = pd.DataFrame(SPO2, columns=["t", "v"])
p_spo2 = panel(h, frame(h, "SpO2", sub="%", cx=91) + ylabels([70, 100], ["70", "100"], SP_SC) + [
    alt.Chart(sp_df).mark_line(color="#e00000", strokeWidth=1.4).encode(x=xq(), y=yq("v", SP_SC)),
])

# ================================================================= event rows
p_hypop = panel(33, frame(33, "General Hypopnea") + [
    ticks(HYPOPNEA_T, "#67bde8", 2, 31),
    bars(HYPOPNEA_BLOB, "#67bde8", 10, 22)])
p_obs = panel(33, frame(33, "Obstructive Apnea"))
p_mix = panel(33, frame(33, "Mixed Apnea"))
p_cen = panel(32, frame(32, "Central Apnea"))
p_rera = panel(33, frame(33, "RERA"))
p_aro = panel(33, frame(33, "Arousal 3 ARO RES") + [ticks(AROUSAL_T, "#9c9c9c", 3, 31)])
p_des = panel(32, frame(32, "SpO2 Desat") + [
    ticks(DESAT_T, "#e2463e", 1.5, 30.5),
    bars(DESAT_BLOB, "#ee1c1c", 10, 22)])
plm_df = pd.DataFrame(PLM, columns=["s", "e"])
p_plm = panel(33, frame(33, "PLM") + [
    bars(PLM, "#000088", 12, 23),
    ticks(list(plm_df["s"]), "#2b2b8a", 3, 32, 1.3)])
p_snore = panel(33, frame(33, "Snore Evt") + [
    ticks(SNORE_LIGHT, "#a44fbf", 2, 33, 1.6),
    ticks(SNORE_DARK, "#4e0a60", 2, 33, 2.4)])

# ================================================================= derived HR
h = 68
HR_SC = alt.Scale(domain=[8.9, 134.8], nice=False, zero=False)
hr_df = pd.DataFrame({"t": HR_T, "hi": HR_HI, "lo": HR_LO})
p_hr = panel(h, frame(h, "Derived HR", sub="BPM", cx=91, box=BOX_SEL) + ylabels([20, 120], ["20", "120"], HR_SC) + [
    alt.Chart(hr_df).mark_area(color="#000000").encode(x=xq(), y=yq("hi", HR_SC), y2="lo:Q"),
    spikes(HR_FRINGE_UP, 72, HR_SC, 1.2),
    spikes(HR_FRINGE_DN, 72, HR_SC, 1.2),
    spikes(HR_SPIKES, 72, HR_SC, 1.0),
])

# ================================================================= respiration rate
h = 67
RR_SC = alt.Scale(domain=[-4.44, 45.19], nice=False, zero=False)
rr_df = pd.DataFrame(RESP, columns=["t", "v"])
p_rr = panel(h, frame(h, "RESP RATE", sub="BPM", cx=91) + ylabels([0, 40], ["0", "40"], RR_SC) + [
    spikes(RESP_SPIKES, 15.5, RR_SC, 1.0),
    spikes(RESP_FRINGE, 15.5, RR_SC, 1.2),
    alt.Chart(rr_df).mark_line(color="#000000", strokeWidth=2.8).encode(x=xq(), y=yq("v", RR_SC)),
])

# ================================================================= PAP pressure
h = 67
PP_SC = alt.Scale(domain=[-2.22, 22.59], nice=False, zero=False)
pp_df = pd.DataFrame(PAP, columns=["t", "lo", "hi"])
p_pap = panel(h, frame(h, "PAP Pressure", sub="cmH2O", cx=91) + ylabels([0, 20], ["0", "20"], PP_SC) + [
    alt.Chart(pp_df).mark_area(color="#000000").encode(x=xq(), y=yq("hi", PP_SC), y2="lo:Q"),
    spikes(PAP_SPIKES, 5, PP_SC, 1.2),
])

# ================================================================= Delta / Alpha
POW_VALS = [0, 20, 40, 60, 80, 100]
POW_LABS = ["", "20", "", "60", "", "100+"]


def power_panel(pts, peaks, label, cx, dom):
    hh = 67
    df = pd.DataFrame(pts, columns=["t", "v"])
    df["z"] = 0
    sc = alt.Scale(domain=dom, nice=False, zero=False)
    return panel(hh, frame(hh, label, cx=cx) + ylabels(POW_VALS, POW_LABS, sc, size=10, tick=4) + [
        alt.Chart(df).mark_area(color="#000000", interpolate="step-after").encode(
            x=xq(), y=yq("v", sc), y2="z:Q"),
        spikes(peaks, 0, sc, 1.5),
    ])


p_delta = power_panel(DELTA, DELTA_PEAKS, "Delta (Frontal)", 76, [-7.18, 113.1])
p_alpha = power_panel(ALPHA, ALPHA_PEAKS, "Alpha (Occipital)", 75, [-7.14, 112.5])

# ================================================================= stage light
h = 26
sl_df = pd.DataFrame(STAGE_LIGHT, columns=["s", "e", "state"])
sl_df["lvl"] = [1 if s == "Off" else 0 for s in sl_df["state"]]
SL_SC = alt.Scale(domain=[-0.133, 1.6], nice=False, zero=False)
p_sl = panel(h, frame(h, "Stage Light", cx=84, ly=18) + ylabels([1, 0], ["Off", "On"], SL_SC, size=6,
                                                                 color="#a05050", tick=3) + [
    alt.Chart(sl_df).mark_rule(color="#000000", strokeWidth=1).encode(
        x=xq("s"), x2="e:Q", y=yq("lvl", SL_SC)),
])

# ================================================================= assemble
chart = alt.vconcat(
    p_axis, p_hyp, p_pos, p_spo2, p_hypop, p_obs, p_mix, p_cen, p_rera, p_aro, p_des, p_plm, p_snore,
    p_hr, p_rr, p_pap, p_delta, p_alpha, p_sl,
    spacing=0, bounds="flush",
).resolve_scale(y="independent", color="independent").properties(
    padding={"left": 11, "top": 0, "right": 0, "bottom": 0},
    background="#ffffff",
).configure_view(
    fill=CREAM, stroke="transparent"
)

chart.save("out.html", embed_options={"renderer": "svg", "actions": False})
